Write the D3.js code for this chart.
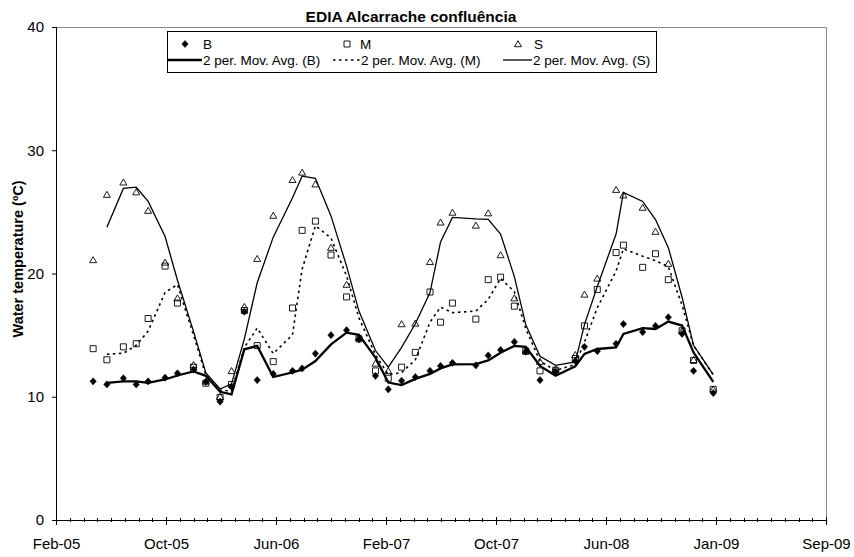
<!doctype html>
<html>
<head>
<meta charset="utf-8">
<style>
    body { margin: 0; background: #fff; }
    text { font-family: "Liberation Sans", Arial, sans-serif; fill: #000; }
</style>
<script src="https://d3js.org/d3.v7.min.js"></script>
</head>
<body>
<svg width="854" height="557"></svg>
<script>
// sampling dates (Alcarrache confluence)
var dates = ["2005-05-11","2005-06-10","2005-07-16","2005-08-13","2005-09-08","2005-10-15","2005-11-11","2005-12-16",
             "2006-01-12","2006-02-12","2006-03-09","2006-04-06","2006-05-04","2006-06-08","2006-07-20","2006-08-10",
             "2006-09-08","2006-10-12","2006-11-15","2006-12-12","2007-01-17","2007-02-14","2007-03-15","2007-04-14",
             "2007-05-16","2007-06-08","2007-07-04","2007-08-24","2007-09-20","2007-10-17","2007-11-16","2007-12-11",
             "2008-01-11","2008-02-14","2008-03-28","2008-04-17","2008-05-15","2008-06-25","2008-07-11","2008-08-22",
             "2008-09-19","2008-10-17","2008-11-16","2008-12-11","2009-01-23"];

var B = [11.25, 11.0, 11.5, 11.0, 11.25, 11.55, 11.9, 12.2, 11.2, 9.6, 10.8, 16.9, 11.35, 11.85, 12.1, 12.3,
         13.5, 15.0, 15.4, 14.65, 11.7, 10.6, 11.3, 11.6, 12.1, 12.5, 12.75, 12.55, 13.35, 13.8, 14.45, 13.65,
         11.35, 12.05, 12.9, 14.05, 13.7, 14.3, 15.9, 15.25, 15.75, 16.45, 15.1, 12.1, 10.3];

var M = [13.9, 13.0, 14.05, 14.3, 16.35, 20.6, 17.6, 12.4, 11.1, 9.95, 11.0, 17.0, 14.15, 12.85, 17.2, 23.5,
         24.25, 21.5, 18.1, 14.7, 12.1, 11.5, 12.4, 13.6, 18.5, 16.05, 17.6, 16.3, 19.5, 19.7, 17.35, 13.7,
         12.1, 12.15, 13.1, 15.75, 18.7, 21.7, 22.3, 20.5, 21.6, 19.5, 15.35, 12.95, 10.6];

var S = [21.1, 26.4, 27.4, 26.6, 25.1, 20.9, 18.0, 12.6, 11.25, 10.0, 12.1, 17.3, 21.2, 24.7, 27.6, 28.2,
         27.25, 22.1, 19.1, 14.8, 12.7, 12.1, 15.9, 15.95, 20.95, 24.15, 24.95, 23.9, 24.9, 21.5, 18.0, 13.7,
         12.85, 12.25, 13.4, 18.3, 19.6, 26.8, 26.35, 25.35, 23.4, 20.8, 15.35, 13.0, 10.6];

var xTickLabels = ["Feb-05","Oct-05","Jun-06","Feb-07","Oct-07","Jun-08","Jan-09","Sep-09"];
var yTicks = [0, 10, 20, 30, 40];

var svg = d3.select("svg"),
    pLeft = 56, pRight = 826, pTop = 27, pBottom = 520;

var parse = d3.timeParse("%Y-%m-%d");
var t = dates.map(parse);
var xStart = new Date(2005, 1, 19);   // axis minimum, major unit 240 days, minor 30
var xEnd = d3.timeDay.offset(xStart, 7 * 240);

var x = d3.scaleTime().domain([xStart, xEnd]).range([pLeft, pRight]),
    y = d3.scaleLinear().domain([0, 40]).range([pBottom, pTop]);

// plot area border (top, right)
svg.append("path")
   .attr("d", "M" + pLeft + "," + (pTop + 0.5) + "H" + (pRight + 0.5) + "V" + pBottom)
   .attr("fill", "none").attr("stroke", "#8a8a8a").attr("stroke-width", 1);

// x axis
var majors = d3.range(0, 8).map(function(k) { return d3.timeDay.offset(xStart, k * 240); });
var minors = d3.range(0, 57).map(function(k) { return d3.timeDay.offset(xStart, k * 30); });

var gx = svg.append("g").attr("transform", "translate(0," + pBottom + ")");
gx.selectAll(".minor").data(minors).enter().append("line")
  .attr("x1", function(d) { return Math.round(x(d)) + 0.5; })
  .attr("x2", function(d) { return Math.round(x(d)) + 0.5; })
  .attr("y1", -2).attr("y2", 2).attr("stroke", "#000");
gx.call(d3.axisBottom(x).tickValues(majors).tickSize(5).tickPadding(13)
          .tickFormat(function(d, i) { return xTickLabels[i]; }));
gx.selectAll(".tick line").attr("y1", -3);
gx.select(".domain").attr("stroke", "#000");
gx.selectAll("text").style("font-size", "15px").style("font-family", "Liberation Sans, Arial, sans-serif");

// y axis
var gy = svg.append("g").attr("transform", "translate(" + pLeft + ",0)");
gy.call(d3.axisLeft(y).tickValues(yTicks).tickSize(4).tickPadding(8));
gy.select(".domain").attr("stroke", "#000");
gy.selectAll("text").style("font-size", "15px").style("font-family", "Liberation Sans, Arial, sans-serif");

// titles
svg.append("text").attr("x", 411).attr("y", 22).attr("text-anchor", "middle")
   .style("font-size", "15.5px").style("font-weight", "bold").text("EDIA Alcarrache confluência");
svg.append("text").attr("transform", "translate(23,259) rotate(-90)").attr("text-anchor", "middle")
   .style("font-size", "14.5px").style("font-weight", "bold").text("Water temperature (ºC)");

// 2 period moving averages
function movAvg(v) {
    var out = [];
    for (var i = 1; i < v.length; i++) out.push({ d: t[i], v: (v[i - 1] + v[i]) / 2 });
    return out;
}
var line = d3.line().x(function(p) { return x(p.d); }).y(function(p) { return y(p.v); });

svg.append("path").datum(movAvg(B)).attr("d", line)
   .attr("fill", "none").attr("stroke", "#000").attr("stroke-width", 2.3);
svg.append("path").datum(movAvg(M)).attr("d", line)
   .attr("fill", "none").attr("stroke", "#000").attr("stroke-width", 1.6).attr("stroke-dasharray", "2.5,3.5");
svg.append("path").datum(movAvg(S)).attr("d", line)
   .attr("fill", "none").attr("stroke", "#000").attr("stroke-width", 1.3);

// markers
var diamond = "M0,-3.6L3.2,0L0,3.6L-3.2,0Z",
    square = "M-3,-3H3V3H-3Z",
    triangle = "M0,-3.3L3.5,2.7H-3.5Z";

function markers(v, shape, fill) {
    svg.append("g").selectAll("path").data(v).enter().append("path")
       .attr("transform", function(d, i) { return "translate(" + x(t[i]) + "," + y(d) + ")"; })
       .attr("d", shape)
       .attr("fill", fill).attr("stroke", "#000").attr("stroke-width", fill === "none" ? 0.9 : 0.5);
}
markers(B, diamond, "#000");
markers(M, square, "none");
markers(S, triangle, "none");

// legend
var lg = svg.append("g");
lg.append("rect").attr("x", 167.5).attr("y", 31.5).attr("width", 489).attr("height", 41)
  .attr("fill", "#fff").attr("stroke", "#000");
var row1 = [ { s: diamond, f: "#000", mx: 185, tx: 203, label: "B" },
             { s: square, f: "none", mx: 347, tx: 360, label: "M" },
             { s: triangle, f: "none", mx: 518, tx: 534, label: "S" } ];
row1.forEach(function(e) {
    lg.append("path").attr("transform", "translate(" + e.mx + ",44)").attr("d", e.s)
      .attr("fill", e.f).attr("stroke", "#000").attr("stroke-width", e.f === "none" ? 0.9 : 0.5);
    lg.append("text").attr("x", e.tx).attr("y", 49).style("font-size", "13.5px").text(e.label);
});
var row2 = [ { x1: 168, x2: 202, w: 2.3, dash: null, tx: 203, label: "2 per. Mov. Avg. (B)" },
             { x1: 333, x2: 360, w: 1.6, dash: "2.5,3.5", tx: 361, label: "2 per. Mov. Avg. (M)" },
             { x1: 503, x2: 532, w: 1.3, dash: null, tx: 533, label: "2 per. Mov. Avg. (S)" } ];
row2.forEach(function(e) {
    lg.append("line").attr("x1", e.x1).attr("x2", e.x2).attr("y1", 60).attr("y2", 60)
      .attr("stroke", "#000").attr("stroke-width", e.w).attr("stroke-dasharray", e.dash);
    lg.append("text").attr("x", e.tx).attr("y", 65).style("font-size", "13.5px").text(e.label);
});
</script>
</body>
</html>
